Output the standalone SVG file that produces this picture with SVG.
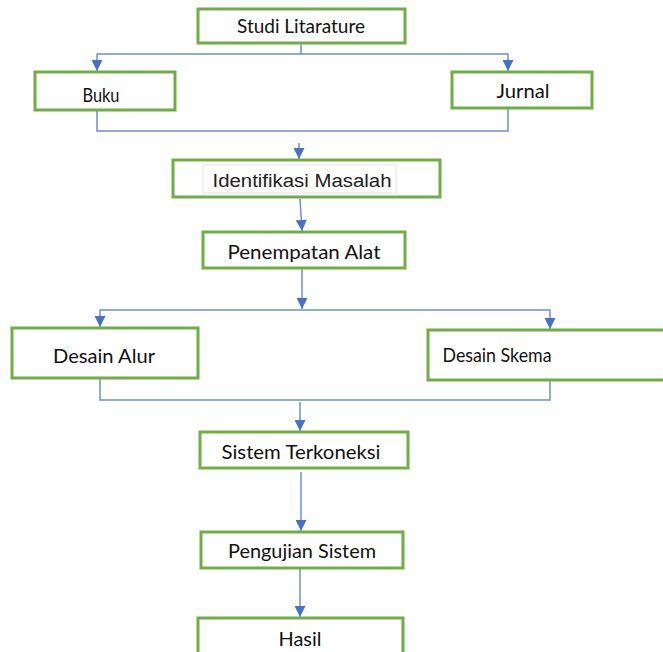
<svg xmlns="http://www.w3.org/2000/svg" width="663" height="652" viewBox="0 0 663 652">
<style>
.box{fill:#fff;stroke:#70AD47;stroke-width:3}
.t{font-family:Lato,"Open Sans",sans-serif;font-size:20px;fill:#111;text-anchor:middle;dominant-baseline:central}
.ta{font-family:"Liberation Sans",Arial,sans-serif;font-size:18px;fill:#222;text-anchor:middle;dominant-baseline:central}
.c{fill:none;stroke:#6F8FCF;stroke-width:1.5}
</style>
<defs>
<marker id="ah2" viewBox="0 0 10 10" refX="10" refY="5" markerWidth="12" markerHeight="11" markerUnits="userSpaceOnUse" orient="auto"><path d="M0,0L10,5L0,10z" fill="#4472C4"/></marker>
</defs>
<rect width="663" height="652" fill="#fff"/>
<g id="connectors">
<path class="c" d="M301,43V54H97V71" marker-end="url(#ah2)"/>
<path class="c" d="M301,54H508V71" marker-end="url(#ah2)"/>
<path class="c" d="M97,110V131H508V108"/>
<path class="c" d="M299,143V159" marker-end="url(#ah2)"/>
<path class="c" d="M300,199L302,231" marker-end="url(#ah2)"/>
<path class="c" d="M302,268V309" marker-end="url(#ah2)"/>
<path class="c" d="M302,310H100V327" marker-end="url(#ah2)"/>
<path class="c" d="M302,310H550V329" marker-end="url(#ah2)"/>
<path class="c" d="M100,378V400H550V380"/>
<path class="c" d="M300,402V431" marker-end="url(#ah2)"/>
<path class="c" d="M301,472V531" marker-end="url(#ah2)"/>
<path class="c" d="M300,568V617" marker-end="url(#ah2)"/>
</g>
<g id="studi"><rect class="box" x="198" y="9" width="207" height="34"/><text class="t" x="301" y="25" textLength="128" lengthAdjust="spacingAndGlyphs">Studi Litarature</text></g>
<g id="buku"><rect class="box" x="35" y="72" width="140" height="38"/><text class="t" x="101" y="94" font-size="17" textLength="37" lengthAdjust="spacingAndGlyphs">Buku</text></g>
<g id="jurnal"><rect class="box" x="452" y="72" width="140" height="36"/><text class="t" x="523" y="90" textLength="53" lengthAdjust="spacingAndGlyphs">Jurnal</text></g>
<g id="identifikasi"><rect class="box" x="173" y="160" width="267" height="37"/><rect x="203" y="165" width="193" height="28" fill="#fff" stroke="#e6e6e6" stroke-width="1"/><text class="ta" x="302" y="181" textLength="179" lengthAdjust="spacingAndGlyphs">Identifikasi Masalah</text></g>
<g id="penempatan"><rect class="box" x="203" y="232" width="202" height="36"/><text class="t" x="304" y="251" textLength="153" lengthAdjust="spacingAndGlyphs">Penempatan Alat</text></g>
<g id="desainalur"><rect class="box" x="12" y="328" width="186" height="50"/><text class="t" x="104" y="355" textLength="102" lengthAdjust="spacingAndGlyphs">Desain Alur</text></g>
<g id="desainskema"><rect class="box" x="428" y="330" width="240" height="50"/><text class="t" x="497" y="354" font-size="18" textLength="109" lengthAdjust="spacingAndGlyphs">Desain Skema</text></g>
<g id="sistem"><rect class="box" x="200" y="432" width="208" height="36"/><text class="t" x="301" y="451" textLength="159" lengthAdjust="spacingAndGlyphs">Sistem Terkoneksi</text></g>
<g id="pengujian"><rect class="box" x="201" y="532" width="202" height="36"/><text class="t" x="302" y="550" textLength="148" lengthAdjust="spacingAndGlyphs">Pengujian Sistem</text></g>
<g id="hasil"><rect class="box" x="198" y="618" width="205" height="40"/><text class="t" x="300" y="638" textLength="43" lengthAdjust="spacingAndGlyphs">Hasil</text></g>
</svg>
